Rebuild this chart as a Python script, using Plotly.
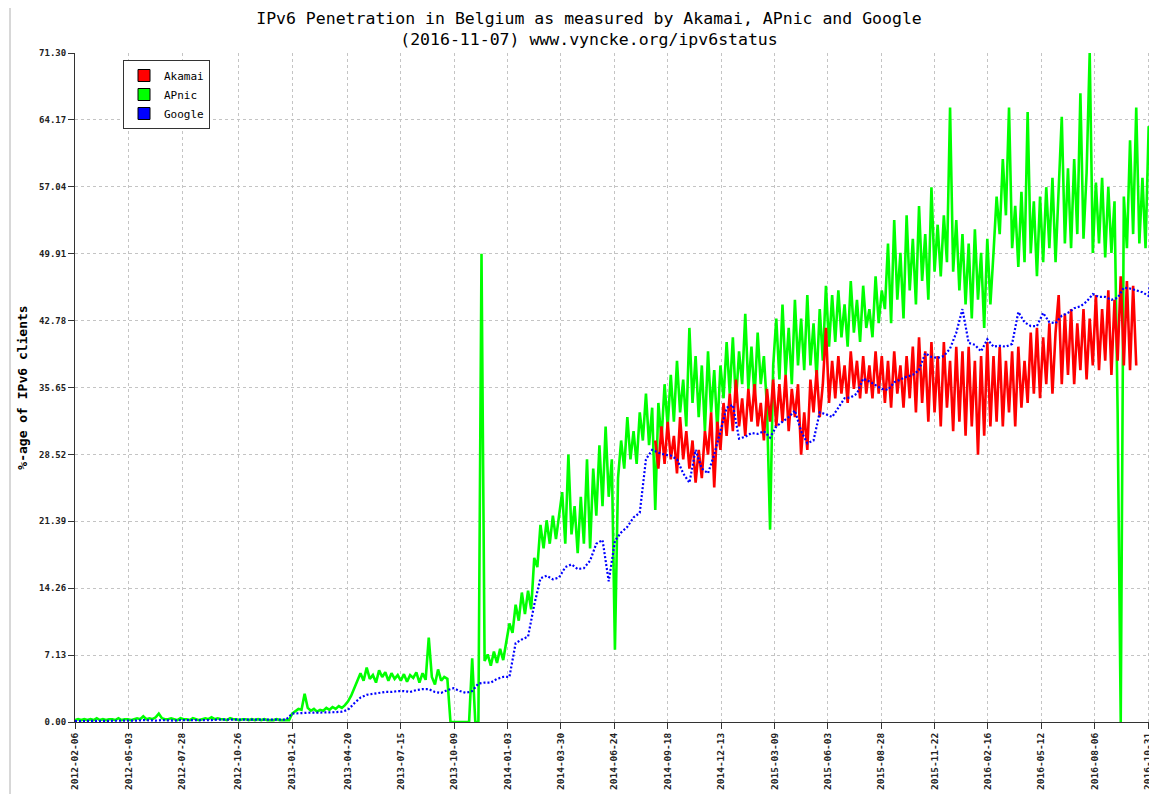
import pandas as pd
import plotly.graph_objects as go

# ---------------- data ----------------
START = "2012-02-06"

# APnic, one value every 5 days from 2012-02-06
apnic = [
    0.2, 0.3, 0.2, 0.3, 0.2, 0.3, 0.2, 0.4, 0.2, 0.3,
    0.2, 0.3, 0.3, 0.2, 0.4, 0.2, 0.3, 0.3, 0.2, 0.3,
    0.4, 0.3, 0.6, 0.3, 0.4, 0.3, 0.5, 0.9, 0.4, 0.3,
    0.3, 0.4, 0.3, 0.2, 0.4, 0.3, 0.3, 0.2, 0.4, 0.3,
    0.2, 0.3, 0.4, 0.3, 0.5, 0.3, 0.4, 0.3, 0.3, 0.2,
    0.4, 0.3, 0.3, 0.2, 0.3, 0.3, 0.2, 0.3, 0.2, 0.3,
    0.2, 0.3, 0.2, 0.2, 0.2, 0.3, 0.2, 0.2, 0.2, 0.2,
    0.9, 1.2, 1.4, 1.3, 3.0, 1.5, 1.2, 1.4, 1.1, 1.3,
    1.2, 1.5, 1.3, 1.6, 1.4, 1.7, 1.5, 1.8, 2.2, 2.8,
    3.6, 4.5, 5.2, 4.4, 5.8, 4.6, 5.0, 4.2, 5.5, 4.8,
    5.3, 4.4, 5.2, 4.6, 5.0, 4.4, 5.1, 4.3, 5.0, 4.7,
    5.3, 4.2, 5.2, 4.5, 9.0, 4.8, 4.0, 5.6, 4.4, 4.8,
    4.6, 0.0, 0.0, 0.0, 0.0, 0.0, 0.0, 0.0, 6.8, 0.0,
    0.0, 49.9, 6.5, 7.2, 6.0, 7.5, 6.3, 7.8, 6.6, 8.5,
    10.5, 9.5, 12.5, 10.8, 13.8, 11.5, 14.0, 12.0, 17.5, 16.5,
    21.0, 18.5, 21.5, 19.0, 22.0, 19.5, 21.8, 24.5, 19.0, 28.5,
    20.0, 23.0, 18.0, 24.0, 19.0, 28.0, 18.5, 27.0, 22.0, 29.5,
    23.0, 31.5, 24.0, 28.0, 7.7, 26.0, 30.0, 27.0, 32.5, 28.0,
    31.0, 27.5, 33.0, 30.0, 35.0, 29.5, 33.5, 22.6, 34.0, 30.0,
    36.0, 31.5, 37.0, 32.0, 38.5, 33.0, 36.5, 31.5, 42.0, 34.0,
    39.0, 32.5, 38.0, 31.0, 39.5, 33.0, 37.5, 31.0, 38.0, 34.5,
    40.5, 35.0, 41.0, 34.0, 39.5, 36.0, 43.5, 35.5, 40.0, 34.5,
    41.5, 36.0, 39.0, 33.5, 20.5, 38.0, 43.0, 36.5, 44.5, 37.0,
    42.0, 36.0, 45.0, 38.0, 43.0, 37.5, 45.5, 38.0, 42.5, 36.5,
    44.0, 38.5, 46.5, 40.0, 45.5, 40.5, 46.0, 41.0, 44.5, 40.0,
    47.0, 41.5, 45.0, 40.5, 46.5, 42.0, 44.0, 41.0, 47.5, 42.5,
    46.0, 44.0, 51.0, 42.5, 53.5, 45.0, 50.0, 43.0, 54.0, 46.0,
    51.5, 44.5, 55.0, 47.0, 52.0, 45.0, 57.0, 48.0, 53.0, 47.5,
    54.0, 49.0, 65.5, 48.0, 53.5, 46.0, 52.0, 44.5, 51.0, 43.0,
    52.5, 45.0, 50.0, 42.0, 51.5, 44.5, 50.0, 56.0, 52.0, 60.0,
    54.0, 65.5, 50.5, 55.0, 48.5, 56.5, 49.0, 65.0, 50.0, 55.5,
    47.5, 56.0, 49.0, 57.0, 50.5, 58.0, 49.0, 56.5, 64.5, 51.0,
    59.0, 50.5, 60.0, 52.0, 67.0, 51.5, 58.5, 71.3, 50.0, 57.5,
    51.0, 58.0, 49.5, 57.0, 50.0, 55.5, 33.0, 0.0, 56.0, 50.5,
    62.0, 52.0, 65.5, 51.0, 58.0, 50.5, 63.5, 58.5,
]

# Akamai, one value every 5 days from 2014-08-29
AKAMAI_START = "2014-08-29"
akamai = [
    30.0, 27.0, 31.5, 27.5, 32.0, 28.0, 30.5, 26.5, 32.5, 28.0,
    31.0, 27.0, 30.0, 25.5, 29.0, 26.0, 31.0, 28.5, 33.0, 25.0,
    32.0, 29.0, 34.0, 30.5, 35.0, 31.0, 36.5, 31.5, 34.5, 30.5,
    35.5, 32.0, 36.0, 31.5, 34.0, 30.0, 35.5, 32.0, 36.5, 31.5,
    36.0, 32.0, 37.0, 31.0, 35.5, 32.5, 36.0, 28.5, 33.0, 29.0,
    36.5, 33.0, 37.5, 32.5, 36.0, 42.0, 34.0, 38.5, 34.5, 39.0,
    35.0, 38.0, 34.0, 39.5, 35.5, 38.5, 34.5, 39.0, 35.0, 38.0,
    34.5, 39.5, 35.0, 39.0, 34.0, 38.5, 33.5, 39.5, 35.0, 38.0,
    33.5, 39.0, 34.5, 40.0, 33.0, 41.0, 34.0, 39.5, 32.0, 40.5,
    33.0, 39.0, 31.5, 40.5, 33.5, 38.5, 31.0, 40.0, 32.0, 39.5,
    30.5, 40.0, 31.5, 38.5, 28.5, 39.0, 30.5, 40.5, 31.5, 39.0,
    32.0, 40.0, 31.5, 38.5, 33.0, 39.5, 31.5, 40.0, 33.5, 38.5,
    34.0, 41.5, 35.0, 42.0, 34.5, 41.0, 36.0, 42.5, 35.0, 41.5,
    45.5, 36.0, 43.5, 37.0, 44.0, 36.0, 42.5, 37.5, 44.0, 36.5,
    43.0, 38.0, 45.5, 37.5, 44.0, 38.5, 46.0, 37.0, 45.0, 38.5,
    47.5, 38.0, 47.0, 37.5, 46.5, 38.0,
]

# Google, one value every 10 days from 2012-02-06, plus the last day
GOOGLE_LAST_DAY = "2016-11-07"
google = [
    0.1, 0.1, 0.1, 0.1, 0.15, 0.1, 0.1, 0.15, 0.15, 0.1,
    0.15, 0.2, 0.15, 0.15, 0.2, 0.15, 0.15, 0.2, 0.2, 0.15,
    0.2, 0.2, 0.2, 0.25, 0.25, 0.3, 0.3, 0.25, 0.3, 0.3,
    0.25, 0.25, 0.25, 0.25, 0.25,
    0.9, 0.95, 0.95, 1.0, 1.0, 1.0, 1.05, 1.05, 1.1, 1.3,
    2.0, 2.6, 2.9, 3.0, 3.1, 3.2, 3.2, 3.3, 3.3, 3.2,
    3.4, 3.5, 3.5, 3.2, 3.1, 3.4, 3.6, 3.3, 3.1, 3.3,
    4.1, 4.2, 4.2, 4.6, 4.8, 4.8, 8.4, 8.8, 9.1, 12.5,
    15.3, 15.6, 15.2, 15.4, 16.5, 16.8, 16.3, 16.4, 17.2, 19.0,
    19.4, 15.0, 19.3, 20.2, 20.8, 21.8, 22.3, 28.0, 29.0, 28.7,
    28.5, 28.4, 28.0, 26.5, 25.5, 29.0, 27.0, 26.5, 28.5, 31.0,
    33.5, 33.8, 30.2, 30.4, 30.8, 30.7, 31.0, 30.3, 31.5, 32.0,
    32.5, 33.2, 31.0, 29.7, 30.0, 33.0, 32.8, 32.5, 33.5, 34.5,
    34.6, 35.0, 36.6, 36.3, 35.9, 35.5, 35.4, 36.2, 36.5, 36.8,
    37.0, 37.5, 39.3, 38.9, 38.8, 39.0, 39.8, 41.5, 44.0, 40.4,
    40.2, 39.5, 40.8, 40.0, 40.1, 40.0, 40.3, 43.7, 42.6, 42.2,
    42.2, 43.6, 42.6, 42.5, 43.3, 43.6, 44.1, 44.3, 44.8, 45.6,
    45.3, 45.3, 45.0, 45.2, 46.3, 46.2, 46.0, 45.8, 45.4,
    49.2,
]

x_tick_labels = [
    "2012-02-06", "2012-05-03", "2012-07-28", "2012-10-26", "2013-01-21",
    "2013-04-20", "2013-07-15", "2013-10-09", "2014-01-03", "2014-03-30",
    "2014-06-24", "2014-09-18", "2014-12-13", "2015-03-09", "2015-06-03",
    "2015-08-28", "2015-11-22", "2016-02-16", "2016-05-12", "2016-08-06",
    "2016-10-31",
]
y_tick_values = [0.00, 7.13, 14.26, 21.39, 28.52, 35.65, 42.78, 49.91, 57.04, 64.17, 71.30]

series_names = ["Akamai", "APnic", "Google"]
series_colors = ["#ff0000", "#00ff00", "#0000ff"]

# ---------------- figure ----------------
apnic_dates = pd.date_range(START, periods=len(apnic), freq="5D")
akamai_dates = pd.date_range(AKAMAI_START, periods=len(akamai), freq="5D")
google_dates = pd.date_range(START, periods=len(google) - 1, freq="10D").append(
    pd.DatetimeIndex([GOOGLE_LAST_DAY]))

MONO = "DejaVu Sans Mono"
W, H = 1149, 786          # page body has an 8px margin
ML, MR, MT, MB = 67, 4, 45, 72
PW, PH = W - ML - MR, H - MT - MB

fig = go.Figure()

fig.add_trace(go.Scatter(x=apnic_dates, y=apnic, mode="lines", showlegend=False,
                         line=dict(color=series_colors[1], width=2.6)))
fig.add_trace(go.Scatter(x=akamai_dates, y=akamai, mode="lines", showlegend=False,
                         line=dict(color=series_colors[0], width=2.6)))
fig.add_trace(go.Scatter(x=google_dates, y=google, mode="lines", showlegend=False,
                         line=dict(color=series_colors[2], width=2.2, dash="2px,2px")))

# legend swatches
for name, color in zip(series_names, series_colors):
    fig.add_trace(go.Scatter(x=[None], y=[None], mode="markers", name=name,
                             marker=dict(symbol="square", size=12, color=color,
                                         line=dict(color="#000000", width=1))))

fig.update_layout(
    width=W, height=H,
    margin=dict(l=ML, r=MR, t=MT, b=MB),
    paper_bgcolor="white", plot_bgcolor="white",
    title=dict(
        text="IPv6 Penetration in Belgium as measured by Akamai, APnic and Google"
             "<br>(2016-11-07) www.vyncke.org/ipv6status",
        x=(589 - 8) / W, xref="container", xanchor="center",
        y=1 - 16 / H, yref="container", yanchor="top",
        font=dict(family=MONO, size=16.5, color="#000000"),
    ),
    legend=dict(
        x=(123 - 8 - ML) / PW, y=1 - (60 - 8 - MT) / PH, xanchor="left", yanchor="top",
        bgcolor="white", bordercolor="#333333", borderwidth=1,
        font=dict(family=MONO, size=11, color="#000000"),
        itemwidth=30, tracegroupgap=0,
    ),
    showlegend=True,
)

fig.update_xaxes(
    type="date",
    range=["2012-02-06", "2016-11-08"],
    tickvals=x_tick_labels, ticktext=x_tick_labels,
    tickangle=-90,
    tickfont=dict(family=MONO, size=9.5, color="#222222", weight="bold"),
    ticks="outside", ticklen=6, tickcolor="#333333",
    showline=True, linecolor="#333333", linewidth=1,
    showgrid=True, gridcolor="#c4c4c4", griddash="dot", gridwidth=1,
    zeroline=False,
)
fig.update_yaxes(
    range=[0, 71.3],
    tickvals=y_tick_values, ticktext=[f"{v:.2f}" for v in y_tick_values],
    tickfont=dict(family=MONO, size=9, color="#222222", weight="bold"),
    ticks="outside", ticklen=6, tickcolor="#333333",
    showline=True, linecolor="#333333", linewidth=1, mirror=True,
    showgrid=True, gridcolor="#c4c4c4", griddash="dot", gridwidth=1,
    zeroline=False,
    title=dict(text="%-age of IPv6 clients",
               font=dict(family=MONO, size=13, color="#000000", weight="bold"),
               standoff=8),
)

# light frame line of the original page
fig.add_shape(type="line", xref="paper", yref="paper",
              x0=(10 - 8 - ML) / PW, x1=(10 - 8 - ML) / PW,
              y0=-MB / PH, y1=(PH + MT) / PH,
              line=dict(color="#b0b0b0", width=1))

fig.write_html("out.html")
